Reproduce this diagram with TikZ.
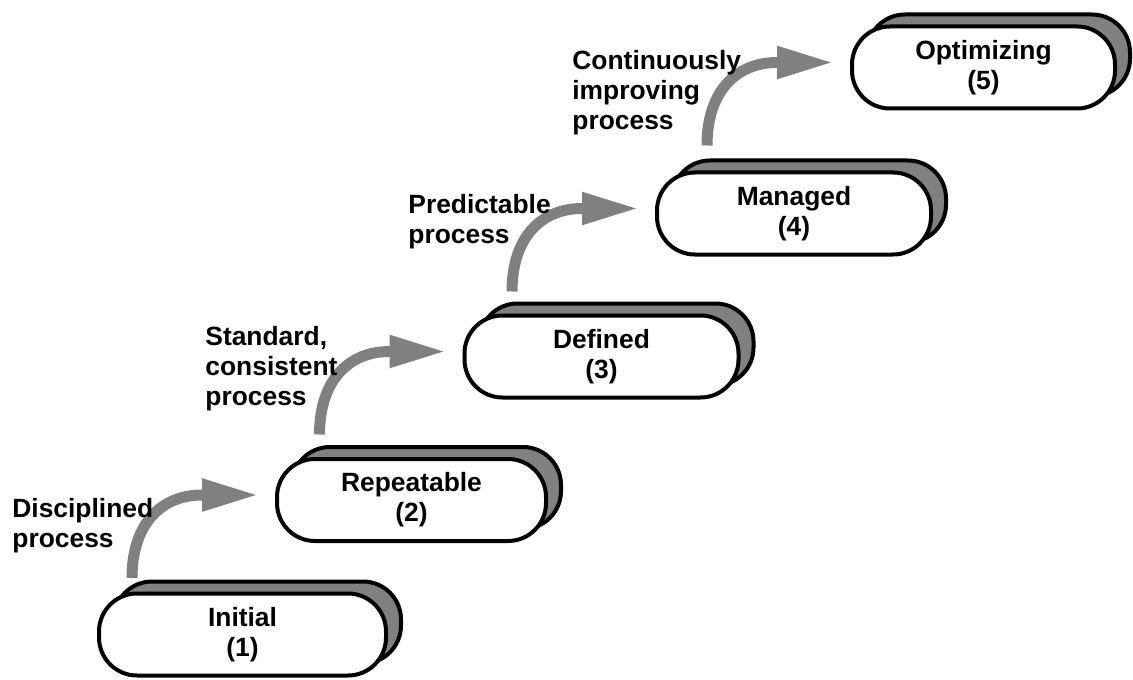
\documentclass[tikz,border=0pt]{standalone}
\usepackage{fontspec}
\setmainfont{Liberation Sans}
\definecolor{shadegray}{RGB}{128,128,128}
\usetikzlibrary{arrows.meta,shadows,calc}
\tikzstyle{stage}=[draw=black,line width=2pt,fill=white,rounded corners=19pt,minimum width=137pt,minimum height=41pt,align=center,inner sep=0pt,copy shadow={shadow xshift=7.5pt,shadow yshift=6pt,fill=shadegray}]
\tikzstyle{climb}=[draw=shadegray,line width=5.5pt,-{Triangle[length=28.5pt,width=15pt]}]
\tikzstyle{note}=[anchor=base west,align=left,inner sep=0pt]

\begin{document}
\begin{tikzpicture}[x=0.5pt,y=-0.5pt,font=\fontsize{13.2}{15}\selectfont\bfseries]
                    \useasboundingbox (0,0) rectangle (1133,679);

                    \node[stage,minimum width=143.5pt] (1) at (242.5,634.5) {Initial\\(1)};
                    \node[stage,minimum width=134.5pt] (2) at (411.5,500) {Repeatable\\(2)};
                    \node[stage] (3) at (601.5,356.5) {Defined\\(3)};
                    \node[stage] (4) at (794,213.5) {Managed\\(4)};
                    \node[stage,minimum width=131.5pt] (5) at (983.5,67.5) {Optimizing\\(5)};

                    \draw[climb] ($(2.west)+(-143,78)$) .. controls +(0,-55) and +(-40,0) .. ($(2.west)+(-73,-5)$) -- ($(2.west)+(-16,-5)$);
                    \draw[climb] ($(3.west)+(-143,78)$) .. controls +(0,-55) and +(-40,0) .. ($(3.west)+(-73,-5)$) -- ($(3.west)+(-16,-5)$);
                    \draw[climb] ($(4.west)+(-143,78)$) .. controls +(0,-55) and +(-40,0) .. ($(4.west)+(-73,-5)$) -- ($(4.west)+(-16,-5)$);
                    \draw[climb] ($(5.west)+(-143,78)$) .. controls +(0,-55) and +(-40,0) .. ($(5.west)+(-73,-5)$) -- ($(5.west)+(-16,-5)$);

                    \node[note] (t1) at (12,547) {Disciplined\\process};
                    \node[note] (t2) at (205,405) {Standard,\\consistent\\process};
                    \node[note] (t3) at (408,243) {Predictable\\process};
                    \node[note] (t4) at (572,130) {Continuously\\improving\\process};
                \end{tikzpicture}
\end{document}
